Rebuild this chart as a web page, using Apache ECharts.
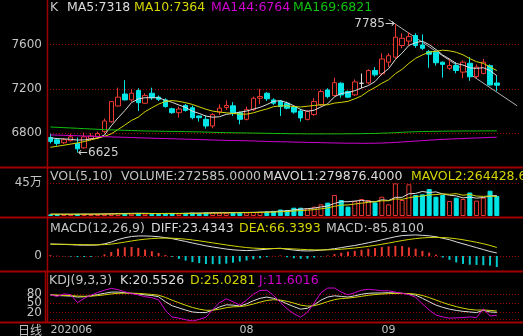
<!DOCTYPE html>
<html><head><meta charset="utf-8">
<script src="https://cdn.jsdelivr.net/npm/echarts@6/dist/echarts.min.js"></script>
<style>html,body{margin:0;padding:0;background:#000;}#c{width:523px;height:336px;}</style>
</head><body><div id="c"></div>
<script>
// ---------- categories (trading days) ----------
const dates = ['2020-06-19','2020-06-22','2020-06-23','2020-06-24','2020-06-29','2020-06-30',
'2020-07-01','2020-07-02','2020-07-03','2020-07-06','2020-07-07','2020-07-08','2020-07-09','2020-07-10',
'2020-07-13','2020-07-14','2020-07-15','2020-07-16','2020-07-17','2020-07-20','2020-07-21','2020-07-22','2020-07-23','2020-07-24',
'2020-07-27','2020-07-28','2020-07-29','2020-07-30','2020-07-31',
'2020-08-03','2020-08-04','2020-08-05','2020-08-06','2020-08-07','2020-08-10','2020-08-11','2020-08-12','2020-08-13','2020-08-14',
'2020-08-17','2020-08-18','2020-08-19','2020-08-20','2020-08-21','2020-08-24','2020-08-25','2020-08-26','2020-08-27','2020-08-28','2020-08-31',
'2020-09-01','2020-09-02','2020-09-03','2020-09-04','2020-09-07','2020-09-08','2020-09-09','2020-09-10','2020-09-11',
'2020-09-14','2020-09-15','2020-09-16','2020-09-17','2020-09-18','2020-09-21','2020-09-22','2020-09-23',
'2020-09-24','2020-09-25','2020-09-28'];
const xTickLabels = {'2020-06-19':'202006','2020-08-03':'08','2020-09-01':'09'};

// ---------- price ----------
const open = [6761,6741,6714,6732,6708,6668,6750,6765,6815,6903,7045,7153,7100,7185,7070,7160,7125,7100,7020,6985,
7050,7030,6955,6925,6865,6991,7032,7047,6985,6925,7012,7115,7160,7100,7090,7070,7035,7000,6924,6968,
7056,7190,7140,7250,7175,7145,7250,7253,7365,7335,7440,7485,7590,7630,7680,7595,7535,7530,7440,7385,
7410,7350,7430,7310,7338,7408,7252];
const close = [6726,6708,6741,6767,6659,6767,6775,6796,6910,7085,7125,7100,7160,7075,7140,7120,7105,7040,6985,7018,
7005,6940,6940,6865,6968,7026,7050,6982,6925,7012,7115,7130,7110,7070,7040,7025,6990,6938,6997,7085,
7175,7130,7255,7145,7125,7262,7250,7365,7326,7468,7498,7665,7655,7670,7590,7565,7512,7435,7420,7410,
7365,7440,7308,7395,7440,7235,7232];
const low = [6708,6688,6703,6726,6625,6660,6735,6745,6800,6895,7040,7095,7085,7000,7065,7100,7090,7030,6975,6940,
6995,6925,6905,6840,6845,6965,7010,6955,6880,6915,7000,7060,7090,7055,6955,7015,6975,6905,6915,6955,
7045,7115,7130,7120,7115,7135,7205,7240,7310,7320,7395,7470,7565,7590,7570,7550,7390,7410,7300,7370,
7340,7295,7272,7295,7330,7228,7178];
const high = [6796,6756,6756,6796,6761,6805,6800,6815,6932,7090,7210,7277,7195,7205,7160,7210,7140,7115,7030,7040,
7065,7050,6960,6960,6980,7060,7095,7080,6995,7040,7130,7200,7170,7115,7100,7085,7045,7020,7005,7115,
7190,7205,7300,7260,7185,7285,7338,7375,7395,7520,7520,7785,7700,7710,7700,7690,7550,7545,7445,7470,
7440,7455,7485,7420,7470,7420,7318];
const ma5 = [6758,6752,6748,6745,6738,6740,6748,6756,6784,6867,6938,7003,7076,7109,7120,7119,7120,7096,7078,7054,
7031,6998,6978,6954,6944,6948,6970,6978,6990,6999,7017,7033,7058,7087,7093,7075,7047,7013,6998,7007,
7037,7065,7128,7158,7166,7183,7207,7229,7266,7334,7381,7464,7522,7591,7616,7629,7598,7554,7504,7468,
7428,7414,7389,7384,7390,7364,7318];
const ma10 = [6673,6682,6692,6702,6712,6725,6740,6755,6772,6794,6833,6873,6915,6945,6994,7029,7062,7086,7094,7087,
7075,7059,7037,7016,6999,6990,6984,6978,6972,6972,6983,7002,7018,7039,7046,7046,7040,7036,7043,7050,
7056,7056,7071,7078,7087,7110,7136,7179,7212,7250,7282,7336,7376,7429,7475,7505,7531,7538,7548,7542,
7529,7506,7472,7444,7429,7396,7364];
const ma144 = [6785,6783,6781,6779,6777,6775,6773,6771,6769,6767,6765,6763,6761,6759,6757,6755,6753,6752,6750,6748,
6746,6745,6743,6741,6739,6737,6735,6734,6733,6732,6730,6728,6726,6724,6723,6722,6720,6719,6717,6716,
6715,6713,6712,6711,6710,6710,6709,6709,6710,6711,6714,6717,6721,6725,6729,6733,6737,6741,6744,6747,
6750,6752,6755,6757,6759,6762,6764];
const ma169 = [6856,6853,6850,6847,6844,6841,6838,6835,6832,6830,6828,6826,6824,6822,6820,6819,6818,6817,6816,6815,
6814,6813,6812,6810,6808,6806,6805,6804,6803,6802,6801,6800,6799,6798,6797,6796,6795,6795,6794,6794,
6794,6794,6794,6794,6795,6795,6796,6797,6798,6800,6802,6805,6808,6811,6813,6815,6816,6817,6818,6819,
6819,6820,6820,6820,6821,6821,6821];
const trendLine = [['2020-09-01', 7824], ['2020-09-28', 7047]];
const priceTicks = [6800, 7200, 7600];

// ---------- volume ----------
const volume = [22000,25000,20000,24000,30000,28000,25000,26000,32000,38000,42000,35000,33000,40000,34000,30000,28000,
36000,40000,35000,42000,45000,38000,48000,50000,46000,44000,50000,52000,48000,55000,58000,62000,70000,88000,
82000,113000,113000,105000,127000,159000,182000,286000,218000,127000,205000,232000,218000,186000,263000,159000,
445000,218000,432000,286000,295000,368000,263000,286000,205000,250000,232000,320000,210000,250000,345000,272585];
const mavol1 = [24000,24200,23800,24000,24200,25400,25400,26600,28200,29800,32600,34600,36000,37600,36800,34400,33000,33600,33600,33800,
36200,39600,40000,41600,44600,45400,45200,47600,48400,48000,49800,52600,55000,58600,66600,72000,83000,93200,100200,108000,
123400,137200,171800,194400,194400,203600,213600,200000,193600,220800,211600,254200,254200,303400,308000,335200,319800,328800,299600,283400,
274400,247200,258600,243400,252400,271400,279876.4];
const mavol2 = [25000,25000,25000,25000,25000,25500,25800,26000,26500,27000,29000,30000,31300,32900,33300,33500,33800,34800,35600,35300,
35300,36300,36800,37600,39200,40800,42400,43800,45000,46300,47600,48900,51300,53500,57300,60900,67800,74100,79400,87300,
97700,110100,132500,147300,151200,163500,175400,185900,194000,207600,207600,233900,227100,248500,264400,273400,287000,291500,301500,295700,
304800,283500,293700,271500,267900,272900,264428.6];
const volTicks = [450000];

// ---------- MACD ----------
const diff = [94,92,90,88,85,84,84,86,95,108,128,142,152,156,156,154,150,143,135,124,
113,101,90,79,70,62,54,48,44,42,44,48,53,58,60,52,46,41,39,41,
45,50,57,65,74,82,92,103,114,126,138,150,159,162,164,161,157,150,138,127,
110,95,80,65,50,35,23.4343];
const dea = [91,91.2,91,90.4,89.3,88.2,87.4,87.1,88.7,92.6,99.7,108.1,116.9,124.7,131,135.6,138.5,139.4,138.5,135.6,
131.1,125.1,118.1,110.3,102.2,94.2,86.2,78.6,71.7,65.8,61.4,58.7,57.6,57.7,58.2,57,54.8,52,49.4,47.7,
47.2,47.8,49.6,52.7,57,62,68,75,82.8,91.4,100.7,110.6,120.3,128.6,135.7,140.8,144,145.2,143.8,140.4,
134.3,126.4,117.1,106.7,95.4,82,66.3393];
const macd = [6,2,-2,-5,-9,-8,-7,-2,13,31,57,68,70,63,50,37,23,7,-7,-23,
-36,-48,-56,-63,-64,-64,-60,-52,-44,-36,-26,-18,-9,1,4,-10,-18,-22,-21,-13,
-4,4,15,25,34,40,48,56,62,69,75,79,77,67,57,40,26,10,-12,-30,
-50,-62,-68,-70,-72,-75,-85.81];

// ---------- KDJ ----------
const kLine = [77,75,74,73,70,71,74,78,82,86,86,84,82,80,77,75,71,55,42,35,
28,22,20,20,28,38,45,44,41,48,58,66,70,66,58,48,39,31,34,45,
60,70,74,72,70,74,79,82,83,83,84,83,82,80,76,66,55,44,37,31,
27,24,22,20,27,22,20.5526];
const dLine = [77,76.3,75.5,74.7,73.1,72.4,72.9,74.6,77.1,80.1,82.1,82.7,82.5,81.7,80.1,78.4,75.9,68.9,59.9,51.6,
43.7,36.5,31,27.3,27.5,31,35.7,38.5,39.3,42.2,47.5,53.7,59.1,61.4,60.3,56.2,50.5,44,40.7,42.1,
48.1,55.4,61.6,65.1,66.7,69.1,72.4,75.6,78.1,79.7,81.1,81.7,81.8,81.2,79.5,75,68.3,60.2,52.5,45.3,
39.2,34.1,30.1,28,28.5,27,25.0281];
const jLine = [77,72,80,78,52,66,76,85,92,98,94,87,81,77,71,68,61,27,6,2,
-3,-7,-2,5,29,52,64,55,44,60,79,91,92,75,53,32,16,5,21,51,
84,99,99,86,77,84,92,95,93,90,90,86,82,78,69,48,28,12,6,2,
3,4,6,4,32,9,11.6016];
const kdjTicks = [20, 50, 80];
const kdjGrid = [0, 20, 50, 80];

// ---------- styles ----------
const FONT = '"DejaVu Sans", "Noto Sans CJK SC"';
const UP = '#e8382f', DOWN = '#00e6e6', GRAY = '#c4c4c4', WHITE = '#dcdcdc', YEL = '#d4d400', MAG = '#d000d0', GRN = '#10c010';
const RED_LINE = '#a00000';
const DOT = {color: '#9a0000', width: 1, type: [1, 2]};
const last = a => a[a.length - 1];

function xAxis(gi, show) {
  return {type: 'category', gridIndex: gi, data: dates, boundaryGap: true,
    axisLine: {show: false}, axisTick: {show: false}, splitLine: {show: false},
    axisLabel: show ? {show: true, interval: 0, color: GRAY, fontFamily: FONT, fontSize: 11, margin: 0,
      alignMinLabel: 'left',
      formatter: (v) => xTickLabels[v] || ''} : {show: false}};
}
function yAxis(gi, min, max, interval, fmt) {
  return {type: 'value', gridIndex: gi, min, max, interval, scale: false,
    axisLine: {show: false}, axisTick: {show: false}, splitLine: {show: false},
    axisLabel: {color: GRAY, fontFamily: FONT, fontSize: 12, margin: 5, formatter: fmt}};
}
function gridLines(vals) {
  return {silent: true, symbol: 'none', z: 1, label: {show: false}, lineStyle: DOT,
    data: vals.map(v => ({yAxis: v}))};
}
function lineS(xi, data, color) {
  return {type: 'line', xAxisIndex: xi, yAxisIndex: xi, data, symbol: 'none', showSymbol: false,
    lineStyle: {color, width: 1}, itemStyle: {color}, silent: true, z: 3};
}

const n = close.length;
const candles = close.map((c, i) => [open[i], close[i], low[i], high[i]]);
const volData = volume.map((v, i) => ({value: v, itemStyle: close[i] >= open[i]
  ? {color: '#000', borderColor: UP, borderWidth: 1}
  : {color: DOWN, borderColor: DOWN, borderWidth: 1}}));
const macdData = macd.map(v => ({value: v, itemStyle: {color: v >= 0 ? UP : '#00c8c8'}}));

const txt = (x, y, text, fill, extra) => Object.assign({type: 'text', x, y, z: 100, silent: true,
  style: {text, fill, font: '12.5px ' + FONT, verticalAlign: 'middle'}}, extra || {});
const hl = (y, x1, x2, w) => ({type: 'line', z: 90, silent: true, shape: {x1: x1 || 0, y1: y, x2: x2 || 523, y2: y}, style: {stroke: RED_LINE, lineWidth: w || 2}});

const chart = echarts.init(document.getElementById('c'), null, {renderer: 'canvas'});
chart.setOption({
  animation: false,
  backgroundColor: '#000',
  grid: [
    {left: 47, right: 2.5, top: -3.6, height: 181.2},
    {left: 47, right: 2.5, top: 150, height: 66},
    {left: 47, right: 2.5, top: 204.7, height: 76.9},
    {left: 47, right: 2.5, top: 269.1, height: 56.1}
  ],
  xAxis: [xAxis(0, false), xAxis(1, false), xAxis(2, false), xAxis(3, true)],
  yAxis: [
    yAxis(0, 6400, 8000, 400, v => priceTicks.includes(v) ? String(v) : ''),
    yAxis(1, 0, 900000, 450000, v => volTicks.includes(v) ? (v / 10000) + '万' : ''),
    yAxis(2, -200, 400, 100, v => v === 0 ? '0' : ''),
    yAxis(3, -20, 160, 10, v => kdjTicks.includes(v) ? String(v) : '')
  ],
  series: [
    {type: 'candlestick', xAxisIndex: 0, yAxisIndex: 0, data: candles, barWidth: 5, silent: true,
      itemStyle: {color: '#000', color0: DOWN, borderColor: UP, borderColor0: DOWN, borderColorDoji: '#e0e0e0', borderWidth: 1},
      markPoint: {silent: true, symbol: 'circle', symbolSize: 1, itemStyle: {color: 'rgba(0,0,0,0)'},
        data: [
          {type: 'max', valueDim: 'highest', label: {show: true, position: 'left', distance: 0, color: '#d0d0d0', fontFamily: FONT, fontSize: 12, formatter: p => p.value + '→'}},
          {type: 'min', valueDim: 'lowest', label: {show: true, position: 'right', distance: 0, color: '#d0d0d0', fontFamily: FONT, fontSize: 12, formatter: p => '←' + p.value}}
        ]},
      markLine: {silent: true, symbol: 'none', z: 1, label: {show: false},
        data: priceTicks.map(v => ({yAxis: v, lineStyle: DOT})).concat([[
          {coord: trendLine[0], lineStyle: {color: '#b0b0b0', width: 1, type: 'solid'}},
          {coord: trendLine[1]}]])}
    },
    lineS(0, ma5, WHITE), lineS(0, ma10, YEL), lineS(0, ma144, MAG), lineS(0, ma169, GRN),
    {type: 'bar', xAxisIndex: 1, yAxisIndex: 1, data: volData, barWidth: 5, silent: true, markLine: gridLines(volTicks)},
    lineS(1, mavol1, WHITE), lineS(1, mavol2, YEL),
    {type: 'bar', xAxisIndex: 2, yAxisIndex: 2, data: macdData, barWidth: 2, silent: true, markLine: gridLines([0])},
    lineS(2, diff, WHITE), lineS(2, dea, YEL),
    Object.assign(lineS(3, kLine, WHITE), {markLine: gridLines(kdjGrid)}), lineS(3, dLine, YEL), lineS(3, jLine, MAG)
  ],
  graphic: [
    // panel frames
    {type: 'line', z: 90, silent: true, shape: {x1: 47.5, y1: 0, x2: 47.5, y2: 322}, style: {stroke: RED_LINE, lineWidth: 1.5}},
    {type: 'line', z: 90, silent: true, shape: {x1: 45.5, y1: 271, x2: 45.5, y2: 322}, style: {stroke: RED_LINE, lineWidth: 1.5}},
    hl(167.5), hl(217.5), hl(271.5), hl(322.5),
    // header texts
    txt(50, 8, 'K', GRAY),
    txt(67, 8, 'MA5:' + last(ma5), WHITE),
    txt(134, 8, 'MA10:' + last(ma10), YEL),
    txt(211, 8, 'MA144:' + last(ma144), MAG),
    txt(293, 8, 'MA169:' + last(ma169), GRN),
    txt(50, 177, 'VOL(5,10)', GRAY),
    txt(121, 177, 'VOLUME:' + last(volume).toFixed(4), GRAY),
    txt(263, 177, 'MAVOL1:' + last(mavol1).toFixed(4), WHITE),
    txt(411, 177, 'MAVOL2:' + last(mavol2).toFixed(4), YEL),
    txt(50, 229, 'MACD(12,26,9)', GRAY),
    txt(151, 229, 'DIFF:' + last(diff).toFixed(4), WHITE),
    txt(239, 229, 'DEA:' + last(dea).toFixed(4), YEL),
    txt(326, 229, 'MACD:' + last(macd).toFixed(4), GRAY),
    txt(49, 281, 'KDJ(9,3,3)', GRAY),
    txt(120, 281, 'K:' + last(kLine).toFixed(4), WHITE),
    txt(190, 281, 'D:' + last(dLine).toFixed(4), YEL),
    txt(259, 281, 'J:' + last(jLine).toFixed(4), MAG),
    {type: 'text', x: 42, y: 330, z: 100, silent: true, style: {text: '日线', fill: GRAY, font: '12px "Noto Sans CJK SC"', align: 'right', verticalAlign: 'middle'}}
  ]
});
</script></body></html>
